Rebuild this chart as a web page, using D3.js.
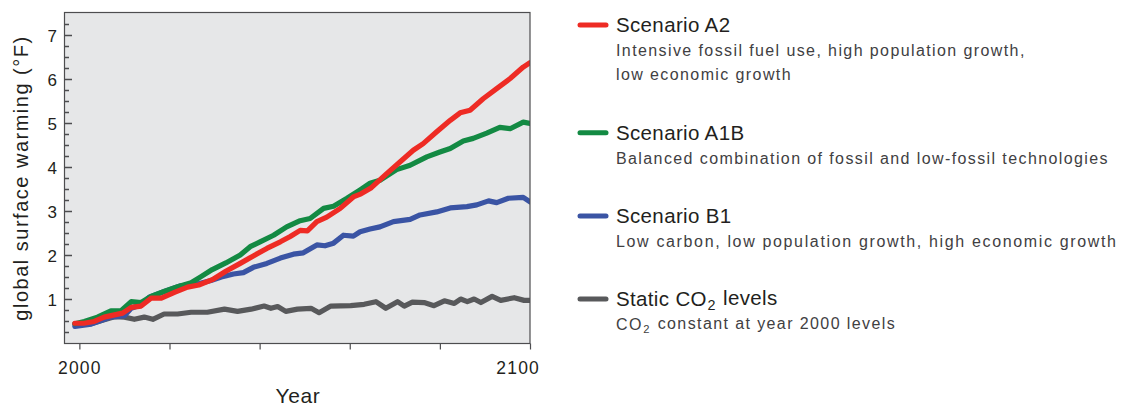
<!DOCTYPE html>
<html>
<head>
<meta charset="utf-8">
<script src="https://cdn.jsdelivr.net/npm/d3@7"></script>
<style>
  html, body { margin: 0; padding: 0; background: #ffffff; }
  svg { display: block; }
  text { font-family: "Liberation Sans", Arial, sans-serif; }
</style>
</head>
<body>
<svg id="chart" width="1133" height="406"></svg>
<script>
// ---------------- data ----------------
const yTickValues = [1, 2, 3, 4, 5, 6, 7];
const xTickValues = [2000, 2020, 2040, 2060, 2080, 2100];
const xTickLabels = ["2000", "", "", "", "", "2100"];

const seriesNames = ["Scenario A2", "Scenario A1B", "Scenario B1", "Static CO2 levels"];
const seriesDescriptions = [
  ["Intensive fossil fuel use, high population growth,", "low economic growth"],
  ["Balanced combination of fossil and low-fossil technologies"],
  ["Low carbon, low population growth, high economic growth"],
  ["CO2 constant at year 2000 levels"]
];

// [year, warming °F]
const scenarioA2 = [
  [1999,0.46],[2001,0.46],[2003.3,0.5],[2005.5,0.6],[2007.8,0.65],[2009.6,0.69],[2011.5,0.82],
  [2013.7,0.85],[2015.9,1.03],[2018.2,1.03],[2021.1,1.16],[2024,1.28],[2026.5,1.33],[2029.5,1.45],
  [2032.5,1.64],[2035.7,1.82],[2038.6,1.99],[2041.6,2.16],[2044.6,2.31],[2046.8,2.43],[2049,2.57],
  [2050.6,2.56],[2052.7,2.77],[2054.9,2.87],[2057.9,3.07],[2060.8,3.33],[2062.5,3.40],[2064.8,3.54],
  [2068.2,3.86],[2071.2,4.13],[2074.1,4.39],[2076.3,4.54],[2079.3,4.81],[2082.3,5.07],[2084.5,5.24],
  [2086.7,5.30],[2089.6,5.56],[2092.6,5.79],[2095.6,6.02],[2098.5,6.28],[2100,6.38]
];
const scenarioA1B = [
  [1999,0.45],[2001.1,0.5],[2004,0.6],[2007,0.74],[2009.2,0.74],[2011.5,0.95],[2013.7,0.93],
  [2015.9,1.07],[2018.8,1.18],[2021.8,1.29],[2024.8,1.38],[2027,1.52],[2029.5,1.68],[2032.5,1.83],
  [2035.7,2.01],[2037.9,2.2],[2040.1,2.31],[2043.1,2.46],[2046,2.65],[2049,2.79],[2051.2,2.84],
  [2054.2,3.07],[2056.4,3.12],[2059.4,3.30],[2062.3,3.49],[2064.5,3.64],[2066.7,3.71],[2070.4,3.95],
  [2073.4,4.05],[2077.1,4.24],[2080,4.35],[2082.3,4.43],[2085.2,4.60],[2087.4,4.66],[2090.4,4.78],
  [2093.3,4.91],[2095.6,4.88],[2098.5,5.03],[2100,5.0]
];
const scenarioB1 = [
  [1999,0.39],[2002.6,0.44],[2007,0.6],[2010,0.63],[2011.5,0.8],[2013.7,0.88],[2015.5,1.05],
  [2019,1.19],[2022.5,1.31],[2026.2,1.35],[2029.2,1.43],[2031.5,1.51],[2034.2,1.58],[2036.4,1.61],
  [2038.6,1.73],[2041.6,1.82],[2044.6,1.94],[2047.5,2.03],[2049.7,2.06],[2052.7,2.24],[2054.5,2.22],
  [2056.4,2.28],[2058.6,2.46],[2060.8,2.44],[2062.3,2.54],[2064.5,2.60],[2066.7,2.65],[2069.7,2.77],
  [2073.4,2.82],[2075.6,2.92],[2079.3,2.99],[2082.3,3.08],[2086,3.11],[2088.2,3.15],[2090.8,3.24],
  [2092.6,3.20],[2095.2,3.30],[2098.5,3.32],[2100,3.22]
];
const staticCO2 = [
  [1999,0.44],[2002.6,0.45],[2005.5,0.54],[2007.8,0.61],[2010,0.60],[2012.2,0.55],[2014.4,0.60],
  [2016.3,0.55],[2018.8,0.67],[2021.8,0.67],[2024.8,0.71],[2028.4,0.71],[2032.2,0.78],[2035.1,0.73],
  [2038.1,0.78],[2041,0.85],[2042.5,0.80],[2044,0.84],[2045.8,0.73],[2048.4,0.78],[2051.4,0.80],
  [2053.2,0.70],[2055.8,0.85],[2060.2,0.86],[2063.2,0.89],[2065.8,0.95],[2068,0.80],[2070.6,0.95],
  [2072.1,0.85],[2073.9,0.94],[2076.5,0.93],[2078.7,0.86],[2081,0.97],[2083.2,0.91],[2084.6,1.01],
  [2086.1,0.95],[2087.6,1.01],[2089.1,0.93],[2091.6,1.07],[2093.5,0.98],[2096.5,1.04],[2098.7,0.98],
  [2100,0.98]
];

const seriesData = [scenarioA2, scenarioA1B, scenarioB1, staticCO2];
const seriesColors = ["#ee2b24", "#138a43", "#3a54a4", "#58595b"];

// ---------------- layout ----------------
const svg = d3.select("#chart");
const plot = { left: 64.5, right: 530, top: 12.5, bottom: 343.5 };

const x = d3.scaleLinear().domain([1996.7, 2100]).range([plot.left, plot.right]);
const y = d3.scaleLinear().domain([0, 7.52]).range([plot.bottom, plot.top]);

const axisColor = "#4d4d4f";

svg.append("rect")
  .attr("x", plot.left).attr("y", plot.top)
  .attr("width", plot.right - plot.left).attr("height", plot.bottom - plot.top)
  .attr("fill", "#e6e7e8");

svg.append("defs").append("clipPath").attr("id", "clip")
  .append("rect")
  .attr("x", plot.left).attr("y", plot.top)
  .attr("width", plot.right - plot.left).attr("height", plot.bottom - plot.top);

// lines (bottom to top: gray, blue, green, red)
const line = d3.line().x(d => x(d[0])).y(d => y(d[1])).curve(d3.curveLinear);
const order = [3, 2, 1, 0];
const lines = svg.append("g").attr("clip-path", "url(#clip)");
order.forEach(i => {
  lines.append("path")
    .datum(seriesData[i])
    .attr("d", line)
    .attr("fill", "none")
    .attr("stroke", seriesColors[i])
    .attr("stroke-width", 5.2)
    .attr("stroke-linejoin", "round")
    .attr("stroke-linecap", "round");
});

// border
svg.append("rect")
  .attr("x", plot.left).attr("y", plot.top)
  .attr("width", plot.right - plot.left).attr("height", plot.bottom - plot.top)
  .attr("fill", "none").attr("stroke", axisColor).attr("stroke-width", 1.2);

// y axis ticks: inward, major at integers, minor every 0.25
const yTickAll = d3.range(1, 30).map(k => k * 0.25);
const tickPath = yTickAll.map(d => {
  const yy = Math.round(y(d)) + 0.5;
  const len = Math.abs(d - Math.round(d)) < 1e-6 ? 7.5 : 4.5;
  return `M${plot.left},${yy}H${plot.left + len}`;
}).join("");
svg.append("path")
  .attr("d", tickPath)
  .attr("fill", "none")
  .attr("stroke", axisColor)
  .attr("stroke-width", 1.3);

svg.append("g").selectAll("text").data(yTickValues).join("text")
  .attr("x", 57).attr("y", d => y(d)).attr("dy", "0.36em")
  .attr("text-anchor", "end")
  .attr("font-size", 17).attr("fill", "#231f20")
  .text(d => d);

// x axis: outward ticks
const xAxis = d3.axisBottom(x).tickValues(xTickValues).tickSize(6).tickFormat("");
const gx = svg.append("g").attr("transform", `translate(0,${plot.bottom})`).call(xAxis);
gx.select(".domain").remove();
gx.selectAll("line").attr("stroke", axisColor).attr("stroke-width", 1.2);
svg.append("g").selectAll("text").data(xTickValues.map((v, i) => [v, xTickLabels[i]]).filter(d => d[1]))
  .join("text")
  .attr("x", d => d[0] === 2100 ? x(d[0]) + 10 : x(d[0]) + 0.5)
  .attr("y", 374)
  .attr("text-anchor", d => d[0] === 2100 ? "end" : "middle")
  .attr("font-size", 17.5).attr("letter-spacing", 1.2).attr("fill", "#231f20")
  .text(d => d[1]);

// axis titles
svg.append("text")
  .attr("x", 298).attr("y", 403)
  .attr("text-anchor", "middle")
  .attr("font-size", 21).attr("letter-spacing", 0.6).attr("fill", "#231f20")
  .text("Year");
svg.append("text")
  .attr("transform", "translate(28,178) rotate(-90)")
  .attr("text-anchor", "middle")
  .attr("font-size", 20).attr("letter-spacing", 1.5).attr("fill", "#231f20")
  .text("global surface warming (°F)");

// legend
const legendSwatchY = [25, 132.7, 216, 299];
const legend = svg.append("g");
function addCO2Text(sel, str) {
  const parts = str.split("CO2");
  parts.forEach((p, k) => {
    if (k > 0) {
      sel.append("tspan").text("CO");
      sel.append("tspan").attr("font-size", "0.7em").attr("dx", "0.05em").attr("dy", "0.28em").text("2");
      sel.append("tspan").attr("dy", "-0.28em").attr("dx", "0.05em").text(p);
    } else if (p) {
      sel.append("tspan").text(p);
    }
  });
}
seriesNames.forEach((name, i) => {
  const sy = legendSwatchY[i];
  legend.append("line")
    .attr("x1", 580).attr("x2", 606).attr("y1", sy).attr("y2", sy)
    .attr("stroke", seriesColors[i]).attr("stroke-width", 5)
    .attr("stroke-linecap", "round");
  const t = legend.append("text")
    .attr("x", 616).attr("y", sy + 7.3)
    .attr("font-size", 20.5).attr("letter-spacing", 0.35).attr("fill", "#231f20");
  addCO2Text(t, name);
  seriesDescriptions[i].forEach((d, j) => {
    const dt = legend.append("text")
      .attr("x", 616).attr("y", sy + 31 + j * 24)
      .attr("font-size", 16).attr("letter-spacing", i === 2 ? 1.65 : 1.4).attr("fill", "#414042");
    addCO2Text(dt, d);
  });
});
</script>
</body>
</html>
